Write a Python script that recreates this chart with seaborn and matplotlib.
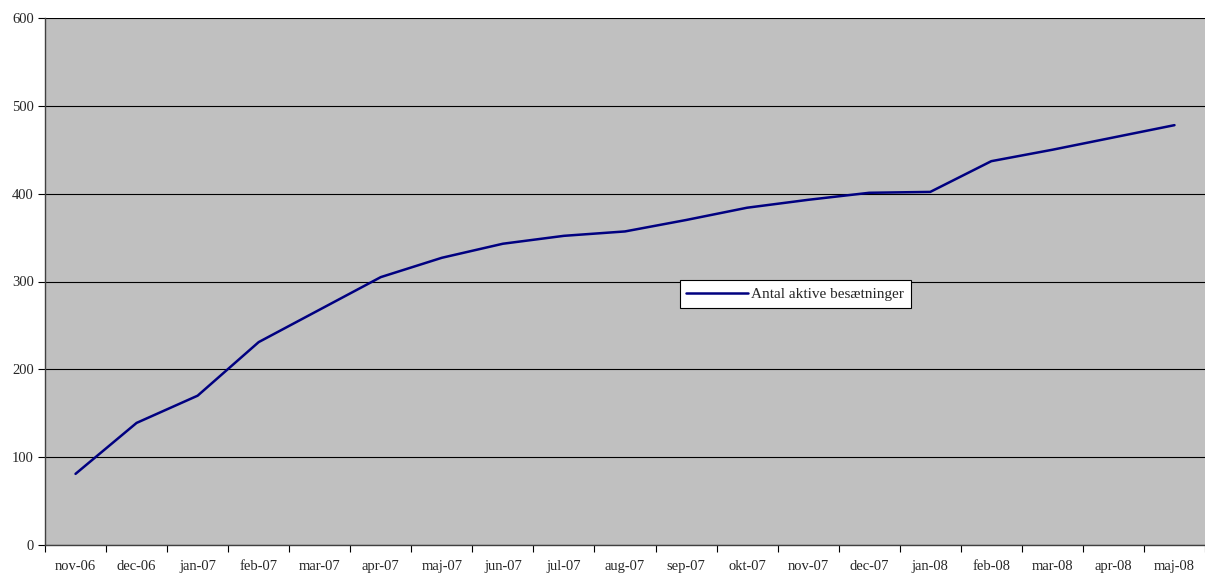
# Active herds per month, Excel-style line chart

import numpy as np
import pandas as pd
import matplotlib.pyplot as plt
import seaborn as sns
from matplotlib.ticker import FixedLocator, MultipleLocator

months = ["nov-06", "dec-06", "jan-07", "feb-07", "mar-07", "apr-07", "maj-07",
          "jun-07", "jul-07", "aug-07", "sep-07", "okt-07", "nov-07", "dec-07",
          "jan-08", "feb-08", "mar-08", "apr-08", "maj-08"]
herds = [81, 139, 170, 231, 268, 305, 327, 343, 352, 357, 370, 384, 393, 401,
         402, 437, 450, 464, 478]
series_name = "Antal aktive besætninger"

sns.set_style("white")
plt.rcParams["font.family"] = ["Liberation Serif", "DejaVu Serif"]

df = pd.DataFrame({"month": months, "herds": herds})

fig = plt.figure(figsize=(12.05, 5.77), dpi=100)
ax = fig.add_axes([45 / 1205, 32 / 577, 1160 / 1205, 527 / 577])
ax.set_facecolor("#C0C0C0")

sns.lineplot(data=df, x="month", y="herds", sort=False, color="#000080",
             linewidth=1.8, label=series_name, ax=ax)

ax.set_xlim(-0.5, len(months) - 0.5)
ax.set_ylim(0, 600)
ax.yaxis.set_major_locator(MultipleLocator(100))
ax.grid(axis="y", color="black", linewidth=0.8)
ax.set_axisbelow(True)

# category labels centred, tick marks between categories
ax.set_xticks(range(len(months)))
ax.set_xticklabels(months, fontsize=10.5)
ax.tick_params(axis="x", which="major", length=0, pad=11)
ax.xaxis.set_minor_locator(FixedLocator(np.arange(-0.5, len(months), 1)))
ax.tick_params(axis="x", which="minor", length=5, width=0.8, color="black",
               direction="out", bottom=True)
ax.tick_params(axis="y", length=5, width=0.8, color="black", direction="out",
               left=True, labelsize=10.5, pad=3)

for side in ["top", "right"]:
    ax.spines[side].set_visible(False)
for side in ["left", "bottom"]:
    ax.spines[side].set_color("#404040")
    ax.spines[side].set_linewidth(1.0)

ax.set_xlabel("")
ax.set_ylabel("")

leg = ax.legend(loc="lower left", bbox_to_anchor=(0.547, 0.45), fontsize=11,
                frameon=True, fancybox=False, framealpha=1, edgecolor="black",
                handlelength=4.0, borderpad=0.45, handletextpad=0.25,
                borderaxespad=0)
leg.get_frame().set_linewidth(0.8)

fig.savefig("out.png", dpi=100, facecolor="white")
